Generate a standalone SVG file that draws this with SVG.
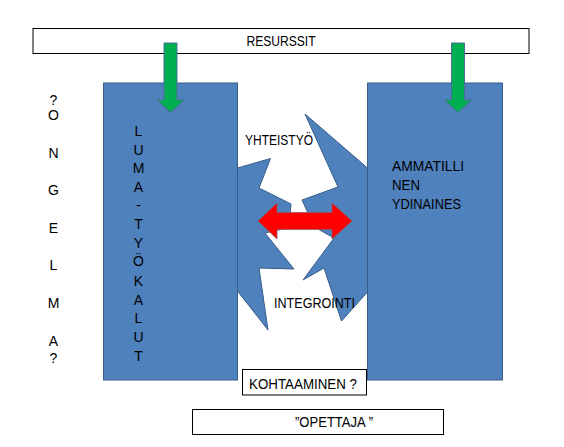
<svg xmlns="http://www.w3.org/2000/svg" width="564" height="447" viewBox="0 0 564 447">
<style>
.blue{fill:#4f81bd;stroke:#385d8a;stroke-width:1}
.green{fill:#00b050;stroke:#4a6f9a;stroke-width:1}
.red{fill:#ff0000;stroke:#8a5a6a;stroke-width:0.8}
.box{fill:#ffffff;stroke:#000000;stroke-width:1}
text{font-family:"Liberation Sans",Arial,sans-serif;font-size:14px;fill:#000000}
.col{text-anchor:middle}
</style>
<rect width="564" height="447" fill="#ffffff"/>
<g id="connectors">
  <polygon class="blue" points="225,160 237.5,168 270.5,158.5 259,188 291,204 290,214 283,229 265,233 294,269 259,268 268,330 237.5,291 225,291"/>
  <polygon class="blue" points="380,160 367.5,168 305,114 338,187 302,200 308,213 318,229 334,238 303,280 324,268 341.5,321 367.5,292 380,292"/>
</g>
<g id="resurssit">
  <rect class="box" x="33" y="28.5" width="496" height="25"/>
  <text x="281" y="46" text-anchor="middle" textLength="69" lengthAdjust="spacingAndGlyphs">RESURSSIT</text>
</g>
<g id="luma">
  <rect class="blue" x="103.5" y="83" width="134" height="297"/>
  <g class="col">
    <text x="138.5" y="136">L</text>
    <text x="138.5" y="155">U</text>
    <text x="138.5" y="173">M</text>
    <text x="138.5" y="192">A</text>
    <text x="138.5" y="210">-</text>
    <text x="138.5" y="229">T</text>
    <text x="138.5" y="248">Y</text>
    <text x="138.5" y="266">Ö</text>
    <text x="138.5" y="286">K</text>
    <text x="138.5" y="305">A</text>
    <text x="138.5" y="323">L</text>
    <text x="138.5" y="342">U</text>
    <text x="138.5" y="361">T</text>
  </g>
</g>
<g id="ammatillinen">
  <rect class="blue" x="367.5" y="83" width="135" height="297"/>
  <text x="392" y="171" textLength="72" lengthAdjust="spacingAndGlyphs">AMMATILLI</text>
  <text x="392" y="189.5" textLength="28" lengthAdjust="spacingAndGlyphs">NEN</text>
  <text x="392" y="208.5" textLength="69" lengthAdjust="spacingAndGlyphs">YDINAINES</text>
</g>
<g id="arrow-left">
  <polygon class="green" points="164,43 177,43 177,100 184,100 170.5,112.5 157,100 164,100"/>
</g>
<g id="arrow-right">
  <polygon class="green" points="451.5,43 464.5,43 464.5,100 471.5,100 458,112.5 444.5,100 451.5,100"/>
</g>
<g id="red-arrow">
  <polygon class="red" points="258,221 277,203 277,212.5 332,212.5 332,203 352,221 332,239 332,229.5 277,229.5 277,239"/>
</g>
<g id="ongelma">
  <g class="col">
    <text x="53.5" y="105">?</text>
    <text x="53.5" y="120">O</text>
    <text x="53.5" y="157.5">N</text>
    <text x="53.5" y="195">G</text>
    <text x="53.5" y="232.5">E</text>
    <text x="53.5" y="270">L</text>
    <text x="53.5" y="307.5">M</text>
    <text x="53.5" y="345.5">A</text>
    <text x="53.5" y="363">?</text>
  </g>
</g>
<g id="yhteistyo">
  <text x="245" y="145" textLength="68" lengthAdjust="spacingAndGlyphs">YHTEISTYÖ</text>
</g>
<g id="integrointi">
  <text x="274" y="307.5" textLength="81" lengthAdjust="spacingAndGlyphs">INTEGROINTI</text>
</g>
<g id="kohtaaminen">
  <rect class="box" x="242.5" y="369.5" width="124" height="25.5"/>
  <text x="249" y="388.5" textLength="108" lengthAdjust="spacingAndGlyphs">KOHTAAMINEN ?</text>
</g>
<g id="opettaja">
  <rect class="box" x="192.5" y="409.5" width="251" height="25"/>
  <text x="295" y="427" textLength="78" lengthAdjust="spacingAndGlyphs">”OPETTAJA ”</text>
</g>
</svg>
